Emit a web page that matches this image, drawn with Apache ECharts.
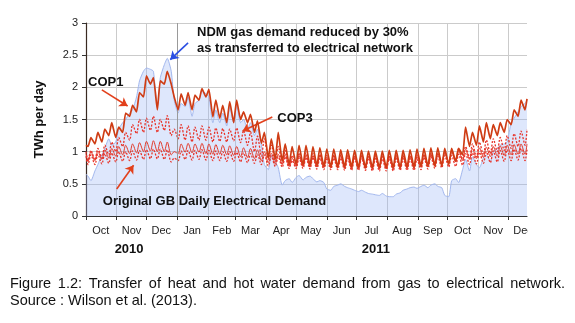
<!DOCTYPE html>
<html><head><meta charset="utf-8">
<script src="https://cdn.jsdelivr.net/npm/echarts@6/dist/echarts.min.js"></script>
<style>html,body{margin:0;padding:0;background:#fff}#c{width:575px;height:323px}</style>
</head><body><div id="c"></div>
<script>
// ---- axis definition ----
const startDate = [2010, 9, 1];   // 2010-10-01
const endDate = [2011, 11, 20];   // 2011-12-20
const monthNames = ['Jan','Feb','Mar','Apr','May','Jun','Jul','Aug','Sep','Oct','Nov','Dec'];
const yMin = 0, yMax = 3, yStep = 0.5;

// ---- series values: Oct 1 2010, then (Sunday, Wednesday) each week, then Dec 18 and Dec 20 2011 ----
const gasDemand = [0.65,
  0.62,0.55, 0.70,0.80, 0.95,1.05, 1.20,1.10, 1.15,1.35,
  1.45,1.50, 1.60,1.65, 1.85,2.10, 2.25,2.30,
  2.28,2.25, 1.70,2.15, 2.35,2.45, 2.25,1.80,
  1.60,1.75, 1.70,1.85, 1.55,1.75, 1.80,1.95, 1.90,1.85,
  1.45,1.65, 1.45,1.60, 1.40,1.70, 1.45,1.72,
  1.45,1.50, 1.35,1.45, 1.25,1.35, 1.10,0.80,
  0.72,0.95, 0.85,0.75, 0.48,0.55, 0.58,0.52,
  0.60,0.63, 0.56,0.60, 0.62,0.58, 0.53,0.55, 0.52,0.42,
  0.40,0.46, 0.48,0.50, 0.46,0.44, 0.42,0.40,
  0.38,0.40, 0.37,0.35, 0.34,0.33, 0.32,0.35, 0.31,0.30,
  0.30,0.34, 0.36,0.40, 0.42,0.44, 0.45,0.43,
  0.46,0.48, 0.44,0.48, 0.50,0.46, 0.44,0.32,
  0.30,0.55, 0.58,0.52, 0.72,0.88, 0.70,0.92, 0.80,0.75,
  0.90,0.95, 0.85,1.00, 1.05,1.10, 1.12,1.15,
  1.45,1.52, 1.62,1.70, 1.75, 1.80];

const cop1 = [1.10,
  1.08,1.22, 1.12,1.30, 1.15,1.35, 1.25,1.45, 1.22,1.38,
  1.30,1.60, 1.55,1.72, 1.62,1.92, 1.85,2.18,
  2.05,2.15, 1.65,2.10, 2.05,2.25, 2.05,1.85,
  1.65,1.90, 1.72,1.92, 1.65,1.88, 1.80,1.98, 1.85,1.97,
  1.54,1.80, 1.52,1.72, 1.45,1.78, 1.45,1.80,
  1.50,1.62, 1.45,1.58, 1.30,1.48, 1.13,1.30,
  0.90,1.20, 0.88,1.30, 0.85,1.12, 0.80,1.08,
  0.80,1.10, 0.79,1.10, 0.78,1.08, 0.78,1.06, 0.77,1.04,
  0.76,1.04, 0.76,1.03, 0.76,1.03, 0.76,1.02,
  0.75,1.02, 0.75,1.01, 0.75,1.01, 0.75,1.01, 0.75,1.02,
  0.75,1.02, 0.75,1.02, 0.76,1.03, 0.76,1.04,
  0.77,1.05, 0.77,1.06, 0.78,1.06, 0.78,1.05,
  0.80,1.05, 0.85,1.05, 0.95,1.38, 1.08,1.30, 1.10,1.40,
  1.15,1.45, 1.20,1.42, 1.25,1.45, 1.30,1.50,
  1.42,1.65, 1.55,1.80, 1.65, 1.82];

const cop3 = [1.00,
  0.86,1.02, 0.87,1.05, 0.90,1.10, 0.95,1.15, 1.00,1.22,
  1.08,1.30, 1.18,1.42, 1.28,1.50, 1.30,1.52,
  1.33,1.55, 1.30,1.50, 1.33,1.56, 1.25,1.35,
  1.20,1.42, 1.18,1.40, 1.15,1.38, 1.18,1.40, 1.18,1.38,
  1.15,1.37, 1.16,1.36, 1.15,1.35, 1.17,1.37,
  1.14,1.33, 1.10,1.30, 1.00,1.24, 0.93,1.20,
  0.88,1.10, 0.85,1.08, 0.82,1.02, 0.78,0.94,
  0.78,0.98, 0.78,0.98, 0.77,0.97, 0.77,0.96, 0.76,0.94,
  0.75,0.95, 0.75,0.95, 0.75,0.95, 0.74,0.94,
  0.74,0.95, 0.74,0.94, 0.74,0.94, 0.74,0.94, 0.74,0.94,
  0.74,0.94, 0.74,0.94, 0.75,0.95, 0.75,0.95,
  0.76,0.96, 0.77,0.97, 0.78,0.98, 0.80,1.00,
  0.82,1.02, 0.85,1.05, 0.88,1.08, 0.90,1.12, 0.92,1.15,
  0.95,1.18, 0.97,1.20, 1.00,1.22, 1.02,1.25,
  1.05,1.28, 1.08,1.32, 1.10, 1.35];

const midDemand = [0.97,
  0.85,1.00, 0.86,1.01, 0.88,1.03, 0.90,1.05, 0.93,1.08,
  0.95,1.10, 0.97,1.12, 0.98,1.14, 1.00,1.16,
  1.01,1.17, 1.00,1.16, 1.00,1.15, 0.95,1.00,
  0.97,1.12, 0.99,1.13, 0.98,1.12, 0.99,1.13, 0.97,1.12,
  0.96,1.11, 0.96,1.10, 0.95,1.09, 0.94,1.08,
  0.92,1.06, 0.91,1.05, 0.89,1.03, 0.86,1.00,
  0.83,0.98, 0.81,0.96, 0.80,0.96, 0.77,0.90,
  0.77,0.94, 0.77,0.95, 0.76,0.94, 0.76,0.94, 0.75,0.92,
  0.75,0.94, 0.75,0.94, 0.74,0.94, 0.74,0.93,
  0.74,0.94, 0.74,0.93, 0.73,0.93, 0.73,0.93, 0.73,0.93,
  0.73,0.93, 0.74,0.93, 0.74,0.93, 0.74,0.93,
  0.76,0.95, 0.77,0.96, 0.78,0.97, 0.80,0.99,
  0.82,1.00, 0.84,1.02, 0.86,1.04, 0.88,1.05, 0.89,1.06,
  0.91,1.07, 0.92,1.08, 0.93,1.09, 0.94,1.10,
  0.95,1.11, 0.96,1.12, 0.96, 1.12];

const originalDemand = [0.93,
  0.80,0.95, 0.80,0.96, 0.81,0.97, 0.82,0.98, 0.84,1.00,
  0.85,1.00, 0.86,1.01, 0.87,1.02, 0.88,1.03,
  0.89,1.04, 0.89,1.04, 0.88,1.03, 0.84,0.90,
  0.86,1.01, 0.88,1.02, 0.87,1.02, 0.88,1.03, 0.87,1.02,
  0.86,1.01, 0.86,1.00, 0.85,1.00, 0.85,0.99,
  0.84,0.98, 0.83,0.97, 0.82,0.96, 0.80,0.95,
  0.78,0.93, 0.77,0.92, 0.76,0.92, 0.74,0.86,
  0.74,0.90, 0.74,0.91, 0.73,0.91, 0.73,0.90, 0.72,0.88,
  0.72,0.90, 0.72,0.90, 0.71,0.90, 0.71,0.89,
  0.71,0.90, 0.71,0.90, 0.70,0.89, 0.70,0.89, 0.70,0.89,
  0.70,0.89, 0.71,0.89, 0.71,0.89, 0.71,0.88,
  0.72,0.91, 0.73,0.92, 0.74,0.93, 0.75,0.94,
  0.76,0.94, 0.77,0.96, 0.79,0.97, 0.80,0.98, 0.81,0.99,
  0.82,1.00, 0.83,1.01, 0.84,1.02, 0.85,1.03,
  0.86,1.04, 0.87,1.05, 0.86, 1.03];

// ---- annotations (data coordinates) ----
const labels = [
  {text:'COP1', at:['2010-10-21', 2.08], align:'center'},
  {text:'NDM gas demand reduced by 30%', at:['2011-01-21', 2.85], align:'left'},
  {text:'as transferred to electrical network', at:['2011-01-21', 2.61], align:'left'},
  {text:'COP3', at:['2011-04-12', 1.52], align:'left'},
  {text:'Original GB Daily Electrical Demand', at:['2010-10-18', 0.22], align:'left'}
];
const arrows = [
  {from:['2010-10-17', 1.96], to:['2010-11-12', 1.71], color:'#e2401c'},
  {from:['2011-01-12', 2.69], to:['2010-12-25', 2.43], color:'#2b4fe3'},
  {from:['2011-04-07', 1.54], to:['2011-03-08', 1.32], color:'#e2401c'},
  {from:['2010-11-01', 0.42], to:['2010-11-18', 0.79], color:'#e2401c'}
];
const yearLine = '2011-01-01';
const caption1 = 'Figure 1.2: Transfer of heat and hot water demand from gas to electrical network.';
const caption2 = 'Source : Wilson et al. (2013).';

// ---- build categories (one per day) ----
const days = [];
for (let t = Date.UTC(...startDate); t <= Date.UTC(...endDate); t += 86400000) {
  days.push(new Date(t).toISOString().slice(0, 10));
}
const sampleIdx = [0];
for (let m = 0; m < 63; m++) { sampleIdx.push(2 + 7 * m, 5 + 7 * m); }
sampleIdx.push(443, 445);
const pairs = arr => sampleIdx.map((d, i) => [days[d], arr[i]]);

const isMonthStart = (i, v) => v.slice(8) === '01';
const isMidMonth = (i, v) => +v.slice(8) === (v.slice(5, 7) === '02' ? 15 : 16);

const FONT = 'Liberation Sans';
const chart = echarts.init(document.getElementById('c'), null, {renderer: 'canvas'});

const option = {
  animation: false,
  backgroundColor: '#fff',
  textStyle: {fontFamily: FONT},
  grid: {left: 86, right: 48, top: 23, bottom: 107},
  xAxis: {
    type: 'category', data: days, boundaryGap: false,
    axisLine: {lineStyle: {color: '#333', width: 1.2}},
    axisTick: {interval: isMonthStart, length: 4, lineStyle: {color: '#333'}},
    splitLine: {show: true, interval: isMonthStart, lineStyle: {color: '#cbcbcb', width: 1}},
    axisLabel: {
      interval: isMidMonth, margin: 8, color: '#222', fontSize: 11, lineHeight: 13,
      fontFamily: FONT,
      formatter: v => {
        let s = monthNames[+v.slice(5, 7) - 1];
        if (v.startsWith('2010-11')) s += '\n{yr|2010}';
        if (v.startsWith('2011-07')) s += '\n{yr2|2011}';
        return s;
      },
      rich: {
        yr: {fontSize: 13, fontWeight: 'bold', color: '#111', lineHeight: 24, padding: [0, 5, 0, 0], fontFamily: FONT},
        yr2: {fontSize: 13, fontWeight: 'bold', color: '#111', lineHeight: 24, padding: [0, 0, 0, 9], fontFamily: FONT}
      }
    }
  },
  yAxis: {
    type: 'value', min: yMin, max: yMax, interval: yStep,
    name: 'TWh per day', nameLocation: 'middle', nameGap: 40,
    nameTextStyle: {fontSize: 13, fontWeight: 'bold', color: '#111', fontFamily: FONT},
    axisLine: {show: true, lineStyle: {color: '#3a2a22', width: 1.2}},
    axisTick: {show: true, length: 4, lineStyle: {color: '#333'}},
    splitLine: {lineStyle: {color: '#cbcbcb', width: 1}},
    axisLabel: {color: '#222', fontSize: 11, margin: 8, fontFamily: FONT, formatter: v => String(v)}
  },
  series: [
    {
      name: 'NDM gas', type: 'line', data: pairs(gasDemand), symbol: 'none', smooth: 0.2,
      lineStyle: {color: '#a2b7ee', width: 1},
      areaStyle: {color: 'rgba(150,178,245,0.45)'},
      markLine: {
        silent: true, symbol: 'none', label: {show: false}, animation: false,
        lineStyle: {color: '#9a9a9a', width: 1, type: 'solid'},
        data: [{xAxis: yearLine}]
      },
      z: 1
    },
    {
      name: 'Original', type: 'line', data: pairs(originalDemand), symbol: 'none', smooth: 0.3,
      lineStyle: {color: '#e8352b', width: 1.3, type: [2, 1.5]}, z: 2
    },
    {
      name: 'Mid', type: 'line', data: pairs(midDemand), symbol: 'none', smooth: 0.3,
      lineStyle: {color: '#e23a2a', width: 1}, z: 3
    },
    {
      name: 'COP3', type: 'line', data: pairs(cop3), symbol: 'none', smooth: 0.3,
      lineStyle: {color: '#e8352b', width: 1.3, type: [2, 1.5]}, z: 4
    },
    {
      name: 'COP1', type: 'line', data: pairs(cop1), symbol: 'none', smooth: 0.15,
      lineStyle: {color: '#cf3c14', width: 1.7}, z: 5,
      markLine: {
        silent: true, symbol: ['none', 'arrow'], symbolSize: 8, label: {show: false}, animation: false,
        data: arrows.map(a => [
          {coord: a.from, lineStyle: {color: a.color, width: 1.6, type: 'solid'}, itemStyle: {color: a.color}},
          {coord: a.to}
        ])
      }
    }
  ]
};
chart.setOption(option);

// ---- text annotations positioned through the axes ----
const graphics = labels.map(l => {
  const p = chart.convertToPixel({xAxisIndex: 0, yAxisIndex: 0}, l.at);
  return {
    type: 'text', x: p[0], y: p[1], z: 100,
    style: {text: l.text, fill: '#111', font: 'bold 13px "' + FONT + '"', align: l.align, verticalAlign: 'middle'}
  };
});
// clip of the last month label (as in the cropped original)
graphics.push({type: 'rect', shape: {x: 528, y: 219, width: 47, height: 18}, style: {fill: '#fff'}, z: 100});

// caption, justified like the source document
const capFont = '14.5px "' + FONT + '"';
const ctx = document.createElement('canvas').getContext('2d');
ctx.font = capFont;
function addLine(text, x, y, width, justify) {
  const words = text.split(' ');
  const ws = words.map(w => ctx.measureText(w).width);
  const total = ws.reduce((a, b) => a + b, 0);
  const gap = justify ? (width - total) / (words.length - 1) : ctx.measureText(' ').width;
  let cx = x;
  words.forEach((w, i) => {
    graphics.push({type: 'text', x: cx, y: y, z: 100,
      style: {text: w, fill: '#111', font: capFont, align: 'left', verticalAlign: 'middle'}});
    cx += ws[i] + gap;
  });
}
addLine(caption1, 10, 284, 555, true);
addLine(caption2, 10, 301, 0, false);
chart.setOption({graphic: graphics});
</script>
</body></html>
